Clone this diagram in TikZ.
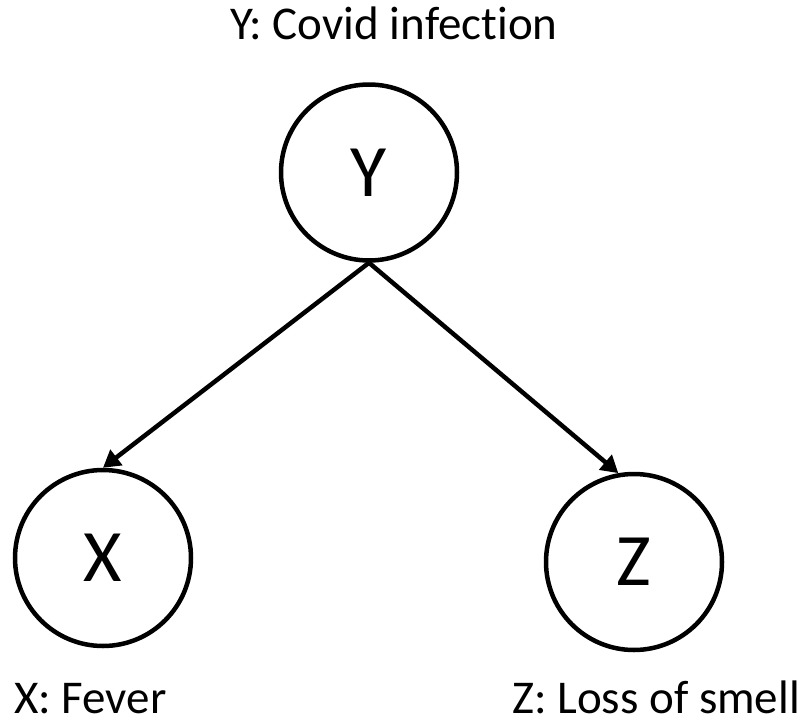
\documentclass[tikz,border=0pt]{standalone}
\usepackage{fontspec}
\setmainfont{Carlito}[Ligatures=NoCommon]
\usetikzlibrary{arrows.meta}
\tikzset{
  var/.style={circle,draw=black,line width=4.5pt,minimum size=176pt,inner sep=0pt,
    font=\fontsize{74}{88}\selectfont},
  lbl/.style={inner sep=0pt,text depth=0pt,font=\fontsize{47}{56}\selectfont},
  edge/.style={line width=4.5pt,-{Triangle[length=17pt,width=19pt]}}
}
\begin{document}
\begin{tikzpicture}[x=1pt,y=-1pt]
\useasboundingbox (0,0) rectangle (812,723);
\node[var] (Y) at (369,172.5) {Y};
\node[var] (X) at (103,558) {X};
\node[var] (Z) at (634,562) {Z};
\node[lbl,anchor=base] (ly) at (394,39) {Y: Covid infection};
\node[lbl,anchor=base west] (lx) at (14,713) {X: Fever};
\node[lbl,anchor=base west] (lz) at (512,713) {Z: Loss of smell};
\draw[edge] (Y.south) -- (X.north);
\draw[edge] (Y.south) -- (Z.100);
\end{tikzpicture}
\end{document}
